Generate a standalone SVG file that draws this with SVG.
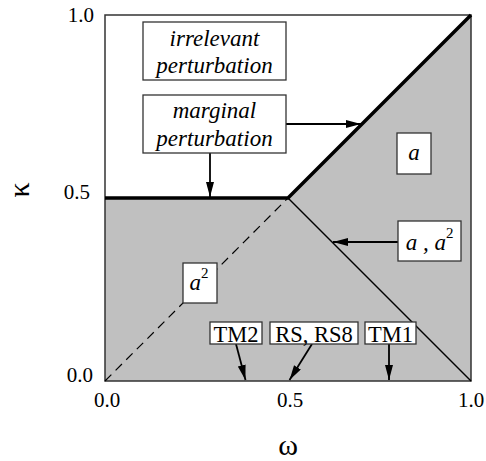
<svg xmlns="http://www.w3.org/2000/svg" width="486" height="461" viewBox="0 0 486 461">
<style>
text{font-family:"Liberation Serif","Times New Roman",serif;fill:#000}
.num{font-size:21px}
.ax{font-size:30px}
.it{font-size:23px;font-style:italic}
.up{font-size:22.5px}
.sup{font-size:15px;font-style:normal}
.box{fill:#fff;stroke:#333;stroke-width:1.3}
.arr{stroke:#000;stroke-width:1.8;fill:none;marker-end:url(#ah)}
</style>
<defs>
<marker id="ah" markerUnits="userSpaceOnUse" markerWidth="16" markerHeight="9" refX="15" refY="4" orient="auto">
<path d="M0,0 L15,4 L0,8 z" fill="#000"/>
</marker>
</defs>
<rect width="486" height="461" fill="#fff"/>
<g id="plot">
<polygon points="105,198 288,198 471,15 471,381 105,381" fill="#c0c0c0"/>
<rect x="105" y="15" width="366" height="366" fill="none" stroke="#333" stroke-width="1.5"/>
<line x1="105" y1="381" x2="288" y2="198" stroke="#000" stroke-width="1.2" stroke-dasharray="9,6"/>
<line x1="288" y1="198" x2="471" y2="381" stroke="#000" stroke-width="1.5"/>
<polyline points="105,198 288,198 471,15" fill="none" stroke="#000" stroke-width="3.5"/>
</g>
<g id="axes">
<text class="num" x="94" y="22" text-anchor="end">1.0</text>
<text class="num" x="90" y="199" text-anchor="end">0.5</text>
<text class="num" x="93" y="382" text-anchor="end">0.0</text>
<text class="num" x="107" y="407" text-anchor="middle">0.0</text>
<text class="num" x="290" y="407" text-anchor="middle">0.5</text>
<text class="num" x="471" y="407" text-anchor="middle">1.0</text>
<text class="ax" x="288" y="455" text-anchor="middle">ω</text>
<text class="ax" transform="translate(29,190) rotate(-90)" text-anchor="middle">κ</text>
</g>
<g id="connectors">
<line class="arr" x1="210" y1="153" x2="210" y2="197"/>
<line class="arr" x1="286" y1="124" x2="361" y2="124"/>
<line class="arr" x1="398" y1="242" x2="333" y2="242"/>
<line class="arr" x1="236" y1="344" x2="245.5" y2="380"/>
<line class="arr" x1="312" y1="344" x2="289.5" y2="380"/>
<line class="arr" x1="389" y1="344" x2="389" y2="380"/>
</g>
<g id="node-irrelevant">
<rect class="box" x="143" y="22" width="143" height="58"/>
<text class="it" x="214.5" y="46" text-anchor="middle">irrelevant</text>
<text class="it" x="214.5" y="73" text-anchor="middle">perturbation</text>
</g>
<g id="node-marginal">
<rect class="box" x="143" y="95" width="143" height="58"/>
<text class="it" x="214.5" y="118" text-anchor="middle">marginal</text>
<text class="it" x="214.5" y="146" text-anchor="middle">perturbation</text>
</g>
<g id="node-a">
<rect class="box" x="397" y="133" width="34" height="41"/>
<text class="it" x="414" y="160" text-anchor="middle">a</text>
</g>
<g id="node-a-a2">
<rect class="box" x="398" y="221" width="63" height="40"/>
<text class="it" x="429.5" y="250" text-anchor="middle">a , a<tspan class="sup" dy="-12">2</tspan></text>
</g>
<g id="node-a2">
<rect class="box" x="183" y="263" width="34" height="40"/>
<text class="it" x="199" y="290" text-anchor="middle">a<tspan class="sup" dy="-12">2</tspan></text>
</g>
<g id="node-tm2">
<rect class="box" x="210" y="322" width="52" height="22"/>
<text class="up" x="236" y="341.5" text-anchor="middle">TM2</text>
</g>
<g id="node-rs">
<rect class="box" x="270" y="322" width="88" height="22"/>
<text class="up" x="314" y="341.5" text-anchor="middle">RS, RS8</text>
</g>
<g id="node-tm1">
<rect class="box" x="365" y="322" width="51" height="22"/>
<text class="up" x="390.5" y="341.5" text-anchor="middle">TM1</text>
</g>
</svg>
